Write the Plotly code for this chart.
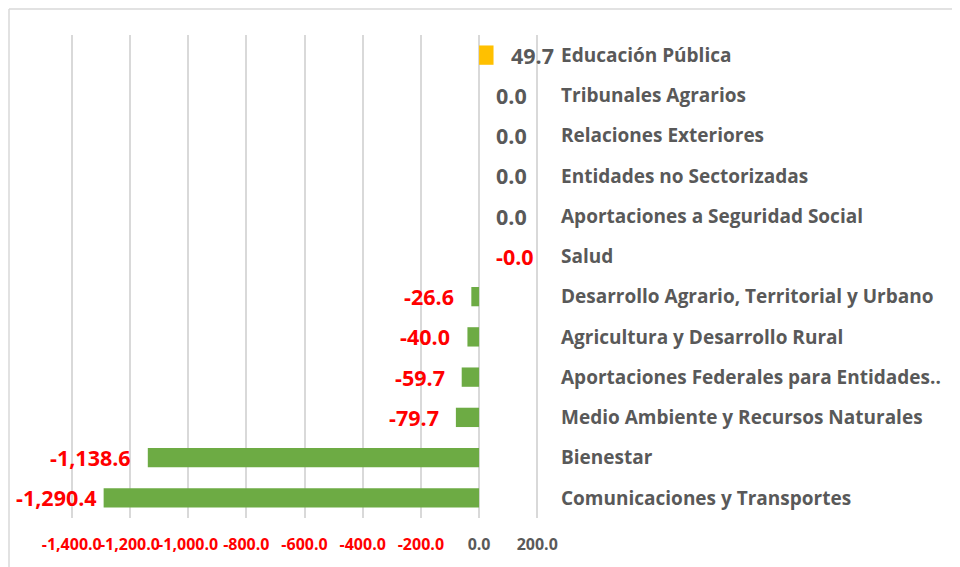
import plotly.graph_objects as go

categories = [
    "Educación Pública",
    "Tribunales Agrarios",
    "Relaciones Exteriores",
    "Entidades no Sectorizadas",
    "Aportaciones a Seguridad Social",
    "Salud",
    "Desarrollo Agrario, Territorial y Urbano",
    "Agricultura y Desarrollo Rural",
    "Aportaciones Federales para Entidades..",
    "Medio Ambiente y Recursos Naturales",
    "Bienestar",
    "Comunicaciones y Transportes",
]
values = [49.7, 0.0, 0.0, 0.0, 0.0, -0.0, -26.6, -40.0, -59.7, -79.7, -1138.6, -1290.4]
tick_vals = [-1400, -1200, -1000, -800, -600, -400, -200, 0, 200]

GREEN = "#6DAB44"
YELLOW = "#FFC000"
RED = "#FF0000"
GRAY = "#595959"
FONT = "Open Sans"

# figure geometry (the page body adds an 8px offset)
W, H = 952, 559
L, T, PW, PH = 62, 27, 469, 483
XMIN, XMAX = -1406, 206
LABEL_SIZE = 21.5

bar_colors = [YELLOW if v > 0 else GREEN for v in values]

fig = go.Figure()
fig.add_trace(go.Bar(
    x=values, y=categories, orientation="h",
    marker=dict(color=bar_colors, line=dict(width=0)),
    width=0.48, hoverinfo="x+y",
))

annotations = []
for c, v in zip(categories, values):
    txt = f"{v:,.1f}"
    col = RED if txt.startswith("-") else GRAY
    left = v < 0
    shift = 15
    if left:
        end_px = L + (v - XMIN) / (XMAX - XMIN) * PW
        est_w = len(txt) * 0.47 * LABEL_SIZE
        room = end_px - 10 - est_w
        if room < 15:
            shift = max(5, room)
    annotations.append(dict(
        x=v, y=c, xref="x", yref="y", text=f"<b>{txt}</b>", showarrow=False,
        xanchor="right" if left else "left", xshift=-shift if left else shift,
        font=dict(family=FONT, size=LABEL_SIZE, color=col),
    ))

def tick_label(t):
    s = f"{t:,.1f}"
    col = RED if t < 0 else GRAY
    return f"<span style='color:{col}'><b>{s}</b></span>"

bx = (1 - L) / PW
by = (T + PH - 1) / PH
shapes = [
    dict(type="line", xref="paper", yref="paper", x0=bx, x1=(W - L) / PW, y0=by, y1=by,
         line=dict(color="#D9D9D9", width=1.5)),
    dict(type="line", xref="paper", yref="paper", x0=bx, x1=bx, y0=by, y1=-(H - T - PH) / PH,
         line=dict(color="#D9D9D9", width=1.5)),
]

fig.update_layout(
    width=W, height=H,
    margin=dict(l=L, r=W - L - PW, t=T, b=H - T - PH, autoexpand=False),
    paper_bgcolor="white", plot_bgcolor="white",
    showlegend=False,
    annotations=annotations,
    shapes=shapes,
    xaxis=dict(
        range=[XMIN, XMAX], tickvals=tick_vals,
        ticktext=[tick_label(t) for t in tick_vals],
        showgrid=True, gridcolor="#D9D9D9", gridwidth=1.5,
        zeroline=False, showline=False, ticks="", tickangle=0,
        tickfont=dict(family=FONT, size=16, color=GRAY),
        ticklabelstandoff=15, automargin=False,
    ),
    yaxis=dict(
        categoryorder="array", categoryarray=categories, autorange="reversed",
        side="right", showgrid=False, zeroline=False, showline=False, ticks="",
        tickfont=dict(family=FONT, size=19, color=GRAY),
        ticklabelstandoff=21, automargin=False,
    ),
    bargap=0.5,
)
fig.update_yaxes(tickvals=categories, ticktext=[f"<b>{c}</b>" for c in categories])

fig.write_html("out.html")
